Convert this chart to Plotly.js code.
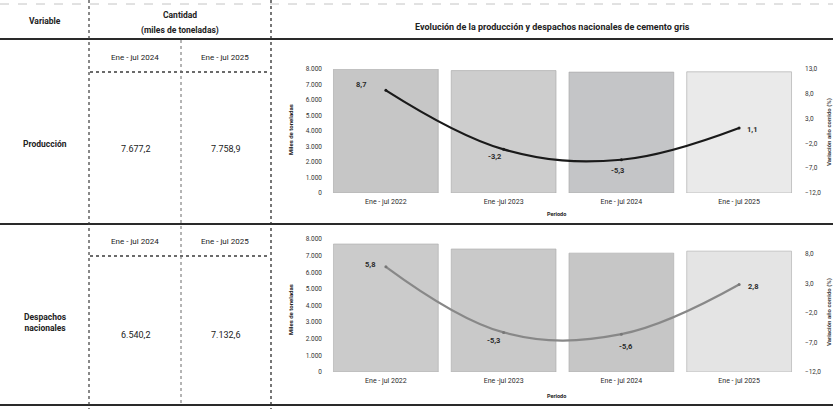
<!DOCTYPE html>
<html>
<head>
<meta charset="utf-8">
<script src="https://cdn.plot.ly/plotly-3.0.1.min.js"></script>
<style>
html,body{margin:0;padding:0;background:#fff;}
#chart{width:833px;height:409px;}
</style>
</head>
<body>
<div id="chart"></div>
<script>
// ---------- data ----------
const periods = ["Ene - jul 2022", "Ene -jul 2023", "Ene - jul 2024", "Ene - jul 2025"];
const prodTons = [7990, 7900, 7800, 7820];          // miles de toneladas (bars)
const prodVar = [8.7, -3.2, -5.3, 1.1];              // variación año corrido (%)
const despTons = [7700, 7400, 7150, 7270];
const despVar = [5.8, -5.3, -5.6, 2.8];
const tablePeriods = ["Ene - jul 2024", "Ene - jul 2025"];
const prodTable = [7677.2, 7758.9];
const despTable = [6540.2, 7132.6];
const rowNames = ["Producción", "Despachos<br>nacionales"];
const leftTicks = [0, 1000, 2000, 3000, 4000, 5000, 6000, 7000, 8000];
const rightTicks1 = [-12, -7, -2, 3, 8, 13];
const rightTicks2 = [-12, -7, -2, 3, 8];

// ---------- helpers ----------
const W = 833, H = 409;
const px = x => x / W;
const py = y => 1 - y / H;
const fmtNum = (v, d) => {
  const s = v.toFixed(d).split('.');
  const ip = s[0].replace(/\B(?=(\d{3})+(?!\d))/g, '.');
  return d > 0 ? ip + ',' + s[1] : ip;
};

const FONT = 'Roboto, "Open Sans", sans-serif';
const DARK = '#222222';

const barCols1 = ['#c6c6c6', '#cdcdcd', '#c4c5c7', '#eaeaea'];
const barCols2 = ['#cbcbcb', '#c9c9c9', '#c6c6c6', '#e4e4e4'];

const traces = [
  {type: 'bar', x: periods, y: prodTons, xaxis: 'x', yaxis: 'y',
   marker: {color: barCols1, line: {color: '#a5a5a5', width: 0.6}}, hoverinfo: 'skip'},
  {type: 'scatter', mode: 'lines+markers', x: periods, y: prodVar, xaxis: 'x', yaxis: 'y2',
   line: {color: '#1a1a1a', width: 2.2, shape: 'spline', smoothing: 1.1},
   marker: {size: 3, color: '#1a1a1a'}, hoverinfo: 'skip'},
  {type: 'bar', x: periods, y: despTons, xaxis: 'x2', yaxis: 'y3',
   marker: {color: barCols2, line: {color: '#a9a9a9', width: 0.6}}, hoverinfo: 'skip'},
  {type: 'scatter', mode: 'lines+markers', x: periods, y: despVar, xaxis: 'x2', yaxis: 'y4',
   line: {color: '#888888', width: 2.2, shape: 'spline', smoothing: 1.1},
   marker: {size: 3, color: '#777777'}, hoverinfo: 'skip'}
];

const xdom = [px(327), px(798)];
const dom1 = [py(193), py(69)];
const dom2 = [py(372), py(239)];
const tickFont = {family: FONT, size: 6.5, color: '#333'};

const yLeft = (dom, anchor) => ({domain: dom, anchor: anchor, range: [0, 8000], tickvals: leftTicks,
  tickformat: ',d', showgrid: false, zeroline: false, showline: false, ticks: '', tickfont: tickFont, ticklabelstandoff: 4, fixedrange: true});
const yRight = (overl, anchor, rng, tv) => ({overlaying: overl, anchor: anchor, side: 'right', range: rng, tickvals: tv,
  tickformat: '.1f', showgrid: false, zeroline: false, showline: false, ticks: '', tickfont: tickFont, ticklabelstandoff: 6, fixedrange: true});
const xAx = (dom, anchor) => ({domain: dom, anchor: anchor, showgrid: false, zeroline: false, showline: false, ticks: '',
  tickfont: {family: FONT, size: 7, color: '#2a2a2a'}, ticklabelstandoff: 3, fixedrange: true});

// table shapes
const ln = (x0, y0, x1, y1, w, c, dash) => ({type: 'line', xref: 'paper', yref: 'paper',
  x0: px(x0), y0: py(y0), x1: px(x1), y1: py(y1), line: {color: c, width: w, dash: dash || 'solid'}});
const shapes = [
  ln(0, 4, 833, 4, 0.8, '#b5b5b5', 'dash'),
  ln(0, 39, 833, 39, 2, '#2a2a2a'),
  ln(90, 72, 270, 72, 1.3, '#3a3a3a', 'dot'),
  ln(0, 224, 833, 224, 2, '#2a2a2a'),
  ln(90, 256, 270, 256, 1.3, '#3a3a3a', 'dot'),
  ln(0, 405, 833, 405, 2, '#2a2a2a'),
  ln(89, 0, 89, 409, 1.2, '#3a3a3a', 'dot'),
  ln(181, 40, 181, 404, 1, '#6a6a6a', 'dot'),
  ln(271, 0, 271, 409, 1.3, '#2e2e2e', 'dot')
];

const ann = [];
const txt = (x, y, t, size, bold, extra) => Object.assign({xref: 'paper', yref: 'paper', x: px(x), y: py(y),
  text: bold ? '<b>' + t + '</b>' : t, showarrow: false, xanchor: 'center', yanchor: 'middle',
  font: {family: FONT, size: size, color: DARK}}, extra || {});

ann.push(txt(45, 21, 'Variable', 8.5, true));
ann.push(txt(180, 15, 'Cantidad', 8.5, true));
ann.push(txt(180, 30, '(miles de toneladas)', 8.5, true));
ann.push(txt(552, 27, 'Evolución de la producción y despachos nacionales de cemento gris', 9, true));
// sub headers
[57, 241].forEach(yy => {
  ann.push(txt(135, yy, tablePeriods[0], 8, false));
  ann.push(txt(225, yy, tablePeriods[1], 8, false));
});
ann.push(txt(45, 144, rowNames[0], 8.5, true));
ann.push(txt(45, 322, rowNames[1], 8.5, true));
ann.push(txt(135, 149, fmtNum(prodTable[0], 1), 9, false));
ann.push(txt(225, 149, fmtNum(prodTable[1], 1), 9, false));
ann.push(txt(135, 335, fmtNum(despTable[0], 1), 9, false));
ann.push(txt(225, 335, fmtNum(despTable[1], 1), 9, false));

// axis titles
[[130, 214], [310, 396]].forEach(([ym, yp]) => {
  ann.push(txt(290, ym, 'Miles de toneladas', 6, true, {textangle: -90}));
  ann.push(txt(556, yp, 'Periodo', 5.5, true));
  ann.push(txt(829, ym + 2, 'Variación año corrido (%)', 6, true, {textangle: -90, font: {family: FONT, size: 6, color: '#444'}}));
});

// data labels
const off1 = [[-25, 6], [-9, -7], [-4, -11], [13, -1]];
const off2 = [[-16, 2], [-10, -8], [5, -12], [14, -2]];
prodVar.forEach((v, i) => ann.push({xref: 'x', yref: 'y2', x: periods[i], y: v, text: '<b>' + fmtNum(v, 1) + '</b>', showarrow: false,
  xshift: off1[i][0], yshift: off1[i][1], font: {family: FONT, size: 7.5, color: '#2a2a2a'}}));
despVar.forEach((v, i) => ann.push({xref: 'x2', yref: 'y4', x: periods[i], y: v, text: '<b>' + fmtNum(v, 1) + '</b>', showarrow: false,
  xshift: off2[i][0], yshift: off2[i][1], font: {family: FONT, size: 7.5, color: '#2a2a2a'}}));

const layout = {
  width: W, height: H, margin: {l: 0, r: 0, t: 0, b: 0},
  paper_bgcolor: '#ffffff', plot_bgcolor: 'rgba(0,0,0,0)',
  separators: ',.', showlegend: false, bargap: 0.11,
  font: {family: FONT, color: DARK},
  xaxis: xAx(xdom, 'y'),
  yaxis: yLeft(dom1, 'x'),
  yaxis2: yRight('y', 'x', [-12, 13], rightTicks1),
  xaxis2: xAx(xdom, 'y3'),
  yaxis3: yLeft(dom2, 'x2'),
  yaxis4: yRight('y3', 'x2', [-12, 10.5], rightTicks2),
  shapes: shapes, annotations: ann
};

Plotly.newPlot('chart', traces, layout, {displayModeBar: false, staticPlot: true});
</script>
</body>
</html>
